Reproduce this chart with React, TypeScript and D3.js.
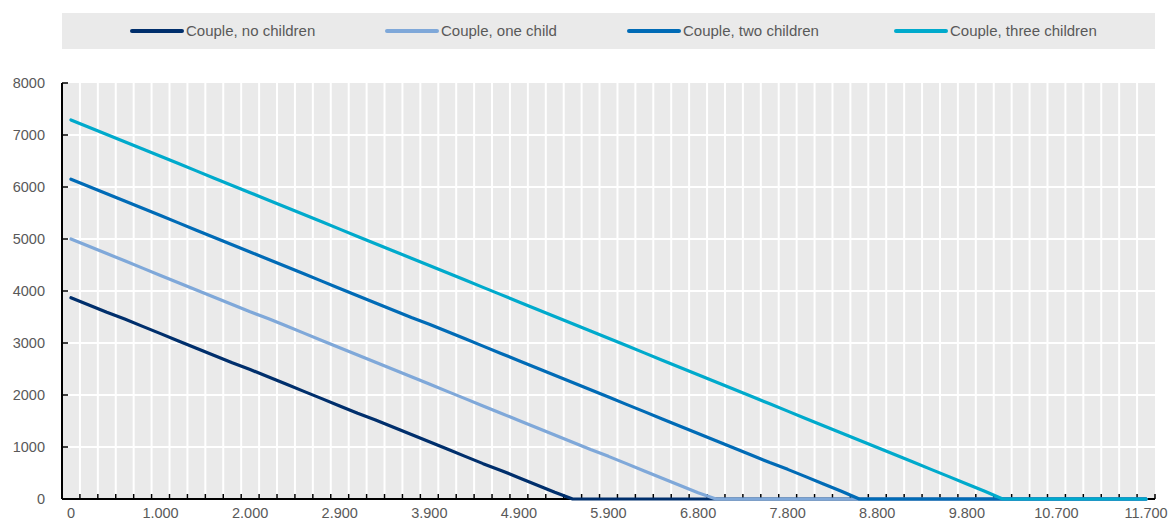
import { useRef, useEffect } from "react";
import { select, scaleBand, scaleLinear, line } from "d3";

// gross earnings steps (x categories)
const earnings = [
  0, 195, 390, 585, 780, 975, 1170, 1365, 1560, 1755, 1950, 2145, 2340, 2535, 2730, 2925,
  3120, 3315, 3510, 3705, 3900, 4095, 4290, 4485, 4680, 4875, 5070, 5265, 5460, 5655, 5850,
  6045, 6240, 6435, 6630, 6825, 7020, 7215, 7410, 7605, 7800, 7995, 8190, 8385, 8580, 8775,
  8970, 9165, 9360, 9555, 9750, 9945, 10140, 10335, 10530, 10725, 10920, 11115, 11310, 11505, 11700,
];

// labelled categories and their text
const tickCats = [0, 975, 1950, 2925, 3900, 4875, 5850, 6825, 7800, 8775, 9750, 10725, 11700];
const tickLabels = ["0", "1.000", "2.000", "2.900", "3.900", "4.900", "5.900", "6.800", "7.800", "8.800", "9.800", "10.700", "11.700"];

const yTicks = [0, 1000, 2000, 3000, 4000, 5000, 6000, 7000, 8000];

const seriesNames = ["Couple, no children", "Couple, one child", "Couple, two children", "Couple, three children"];

const noChildren = [
  3870, 3730, 3590, 3460, 3320, 3180, 3040, 2900, 2760, 2620, 2490, 2350, 2210, 2070, 1930, 1790,
  1650, 1520, 1380, 1240, 1100, 960, 820, 680, 550, 410, 270, 130, 0, 0, 0,
  0, 0, 0, 0, 0, 0, 0, 0, 0, 0, 0, 0, 0, 0, 0,
  0, 0, 0, 0, 0, 0, 0, 0, 0, 0, 0, 0, 0, 0, 0,
];
const oneChild = [
  5000, 4860, 4720, 4580, 4440, 4300, 4160, 4020, 3880, 3740, 3600, 3470, 3330, 3190, 3050, 2910,
  2770, 2630, 2490, 2350, 2210, 2070, 1930, 1790, 1650, 1510, 1370, 1230, 1090, 950, 820,
  680, 540, 400, 260, 120, 0, 0, 0, 0, 0, 0, 0, 0, 0, 0,
  0, 0, 0, 0, 0, 0, 0, 0, 0, 0, 0, 0, 0, 0, 0,
];
const twoChildren = [
  6150, 6010, 5870, 5730, 5590, 5450, 5310, 5170, 5030, 4890, 4750, 4610, 4470, 4330, 4190, 4050,
  3910, 3770, 3630, 3490, 3360, 3220, 3080, 2940, 2800, 2660, 2520, 2380, 2240, 2100, 1960,
  1820, 1680, 1540, 1400, 1260, 1120, 980, 840, 700, 570, 430, 290, 150, 0, 0,
  0, 0, 0, 0, 0, 0, 0, 0, 0, 0, 0, 0, 0, 0, 0,
];
const threeChildren = [
  7290, 7150, 7010, 6870, 6730, 6590, 6450, 6310, 6170, 6030, 5890, 5750, 5610, 5470, 5330, 5190,
  5050, 4910, 4770, 4630, 4490, 4350, 4210, 4070, 3930, 3790, 3650, 3510, 3370, 3230, 3090,
  2950, 2810, 2670, 2530, 2390, 2250, 2110, 1970, 1830, 1690, 1550, 1410, 1270, 1130, 990,
  850, 710, 570, 430, 290, 150, 0, 0, 0, 0, 0, 0, 0, 0, 0,
];

const colors = ["#002F6C", "#7FA8D9", "#006BB6", "#00AACC"];

const W = 1171;
const H = 520;
const left = 62;
const right = 1155;
const top = 83;
const bottom = 499;
const font = "'Liberation Sans', Arial, sans-serif";

export default function App() {
  const ref = useRef<SVGSVGElement | null>(null);

  useEffect(() => {
    const svg = select(ref.current!);
    svg.selectAll("*").remove();

    //scales
    const x = scaleBand<number>().domain(earnings).range([left, right]).padding(0);
    const bw = x.bandwidth();
    const y = scaleLinear().domain([0, 8000]).range([bottom, top]);

    //legend box
    svg.append("rect")
      .attr("x", left).attr("y", 13)
      .attr("width", right - left).attr("height", 36)
      .attr("fill", "#EAEAEA");

    const legendX = [130, 385, 627, 894];
    seriesNames.forEach((name, i) => {
      const g = svg.append("g").attr("transform", `translate(${legendX[i]},31)`);
      g.append("line")
        .attr("x1", 2).attr("x2", 52).attr("y1", 0).attr("y2", 0)
        .attr("stroke", colors[i]).attr("stroke-width", 4).attr("stroke-linecap", "round");
      g.append("text")
        .attr("x", 56).attr("y", 5)
        .attr("font-family", font).attr("font-size", 15).attr("fill", "#595959")
        .text(name);
    });

    //plot background
    svg.append("rect")
      .attr("x", left).attr("y", top)
      .attr("width", right - left).attr("height", bottom - top)
      .attr("fill", "#EAEAEA");

    //grid
    svg.append("g")
      .selectAll("line")
      .data(earnings.slice(1))
      .join("line")
      .attr("x1", (d) => x(d)!).attr("x2", (d) => x(d)!)
      .attr("y1", top).attr("y2", bottom)
      .attr("stroke", "#fff").attr("stroke-width", 2);

    svg.append("g")
      .selectAll("line")
      .data(yTicks.slice(1, -1))
      .join("line")
      .attr("x1", left).attr("x2", right)
      .attr("y1", (d) => y(d)).attr("y2", (d) => y(d))
      .attr("stroke", "#fff").attr("stroke-width", 2);

    //y axis
    const yAxis = svg.append("g");
    yAxis.append("line")
      .attr("x1", left).attr("x2", left).attr("y1", top).attr("y2", bottom)
      .attr("stroke", "#000").attr("stroke-width", 2);
    yAxis.selectAll(".tick")
      .data(yTicks)
      .join("line")
      .attr("class", "tick")
      .attr("x1", left).attr("x2", left + 6)
      .attr("y1", (d) => y(d)).attr("y2", (d) => y(d))
      .attr("stroke", "#000").attr("stroke-width", 1.5);
    yAxis.selectAll("text")
      .data(yTicks)
      .join("text")
      .attr("x", 45).attr("y", (d) => y(d) + 5)
      .attr("text-anchor", "end")
      .attr("font-family", font).attr("font-size", 14.5).attr("fill", "#595959")
      .text((d) => String(d));

    //x axis
    const xAxis = svg.append("g");
    xAxis.append("line")
      .attr("x1", left).attr("x2", right).attr("y1", bottom).attr("y2", bottom)
      .attr("stroke", "#000").attr("stroke-width", 2);
    const bounds = earnings.slice(1).map((d) => x(d)!).concat([right]);
    xAxis.selectAll(".tick")
      .data(bounds)
      .join("line")
      .attr("class", "tick")
      .attr("x1", (d) => d).attr("x2", (d) => d)
      .attr("y1", bottom - 5).attr("y2", bottom)
      .attr("stroke", "#000").attr("stroke-width", 1.5);
    xAxis.selectAll("text")
      .data(tickCats)
      .join("text")
      .attr("x", (d) => x(d)! + bw / 2).attr("y", 518)
      .attr("text-anchor", "middle")
      .attr("font-family", font).attr("font-size", 14.5).attr("fill", "#595959")
      .text((d, i) => tickLabels[i]);

    //series lines, drawn over the axes
    const series = [noChildren, oneChild, twoChildren, threeChildren];
    const path = line<number>()
      .x((d, i) => x(earnings[i])! + bw / 2)
      .y((d) => y(d));

    svg.append("g")
      .selectAll("path")
      .data(series)
      .join("path")
      .attr("d", (d) => path(d))
      .attr("fill", "none")
      .attr("stroke", (d, i) => colors[i])
      .attr("stroke-width", 3.2)
      .attr("stroke-linejoin", "round")
      .attr("stroke-linecap", "round");
  }, []);

  return (
    <svg
      ref={ref}
      width={W}
      height={H}
      style={{ position: "absolute", left: 0, top: 0, background: "#fff" }}
    />
  );
}
